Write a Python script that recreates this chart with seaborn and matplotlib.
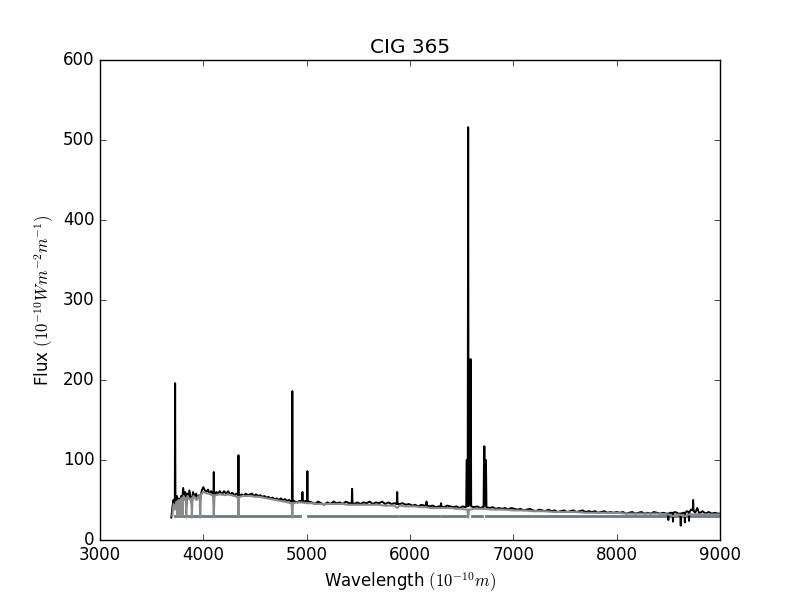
import numpy as np
import pandas as pd
import matplotlib
matplotlib.use('Agg')
import matplotlib.pyplot as plt
import seaborn as sns

# ---------------- data ----------------
# observed spectrum (black)
obs_wave = [3690, 3700, 3710, 3720, 3724, 3727, 3730, 3735, 3745, 3755, 3765, 3775, 3785,
            3795, 3805, 3815, 3825, 3835, 3845, 3855, 3865, 3875, 3889, 3900, 3915, 3930,
            3945, 3960, 3970, 3985, 4000, 4015, 4030, 4045, 4060, 4075, 4090, 4098, 4101,
            4104, 4110, 4125, 4140, 4160, 4180, 4200, 4220, 4240, 4260, 4280, 4300, 4320,
            4336, 4340, 4344, 4350, 4370, 4390, 4410, 4430, 4450, 4470, 4490, 4510, 4530,
            4550, 4570, 4590, 4610, 4630, 4650, 4670, 4690, 4710, 4730, 4750, 4770, 4790,
            4810, 4830, 4850, 4857, 4861, 4865, 4870, 4890, 4910, 4930, 4955, 4959, 4963,
            4975, 4990, 5003, 5007, 5011, 5020, 5050, 5080, 5110, 5140, 5170, 5200, 5230,
            5260, 5290, 5320, 5350, 5380, 5410, 5436, 5440, 5444, 5460, 5490, 5520, 5550,
            5580, 5610, 5640, 5670, 5700, 5730, 5760, 5790, 5820, 5850, 5872, 5876, 5880,
            5900, 5930, 5960, 5990, 6020, 6050, 6080, 6110, 6140, 6156, 6160, 6164, 6190,
            6220, 6250, 6280, 6296, 6300, 6304, 6330, 6360, 6390, 6420, 6450, 6480, 6510,
            6540, 6544, 6548, 6553, 6558, 6563, 6567, 6572, 6580, 6584, 6588, 6592, 6620,
            6650, 6680, 6700, 6712, 6717, 6722, 6726, 6731, 6735, 6740, 6770, 6800, 6830,
            6860, 6890, 6920, 6950, 6980, 7010, 7040, 7070, 7100, 7130, 7160, 7190, 7220,
            7250, 7280, 7310, 7340, 7370, 7400, 7430, 7460, 7490, 7520, 7550, 7580, 7610,
            7640, 7670, 7700, 7730, 7760, 7790, 7820, 7850, 7880, 7910, 7940, 7970, 8000,
            8030, 8060, 8090, 8120, 8150, 8180, 8210, 8240, 8270, 8300, 8330, 8360, 8390,
            8420, 8450, 8480, 8496, 8500, 8504, 8520, 8541, 8545, 8549, 8565, 8600, 8616,
            8620, 8624, 8640, 8656, 8660, 8664, 8680, 8696, 8700, 8704, 8720, 8736, 8740,
            8744, 8760, 8780, 8800, 8830, 8860, 8890, 8920, 8950, 8980, 9000]
obs_flux = [28, 40, 50, 45, 46, 196, 47, 48, 55, 42, 52, 38, 55,
            48, 65, 50, 60, 42, 58, 52, 62, 55, 45, 60, 54, 58,
            52, 56, 50, 62, 66, 62, 60, 63, 58, 61, 58, 57, 85,
            57, 57, 60, 58, 61, 57, 61, 58, 61, 57, 59, 56, 58,
            56, 106, 55, 55, 57, 55, 58, 56, 57, 58, 55, 57, 55,
            56, 54, 55, 53, 54, 52, 53, 51, 52, 50, 52, 50, 51,
            49, 50, 48, 48, 186, 48, 49, 48, 47, 49, 48, 60, 48,
            48, 49, 48, 86, 48, 48, 47, 45, 48, 46, 44, 47, 45,
            48, 46, 47, 45, 48, 46, 46, 64, 46, 45, 47, 45, 47,
            46, 48, 45, 47, 46, 48, 45, 47, 45, 46, 45, 60, 45,
            45, 46, 44, 45, 43, 44, 42, 44, 43, 43, 48, 43, 42,
            43, 41, 42, 42, 46, 42, 41, 43, 42, 41, 42, 40, 42,
            41, 42, 100, 100, 42, 516, 44, 43, 44, 226, 226, 42, 41,
            42, 40, 41, 41, 117, 117, 43, 100, 100, 41, 40, 41, 39,
            40, 39, 40, 38, 40, 39, 38, 39, 37, 38, 39, 37, 36,
            38, 37, 36, 38, 36, 37, 35, 36, 37, 35, 36, 37, 35,
            36, 37, 35, 36, 35, 36, 34, 35, 36, 34, 35, 34, 35,
            34, 35, 33, 34, 35, 33, 34, 35, 33, 34, 33, 35, 34,
            33, 34, 33, 33, 25, 33, 34, 34, 23, 34, 35, 33, 33,
            18, 33, 34, 34, 22, 34, 36, 35, 24, 35, 38, 37, 50,
            37, 34, 40, 33, 36, 33, 35, 33, 34, 33, 33]

# stellar population fit (gray)
fit_wave = [3700, 3712, 3727, 3740, 3746, 3750, 3754, 3760, 3767, 3771, 3775, 3785, 3794,
            3798, 3802, 3810, 3822, 3830, 3835, 3840, 3848, 3862, 3875, 3884, 3889, 3894,
            3905, 3920, 3935, 3950, 3964, 3970, 3976, 3985, 4000, 4020, 4040, 4060, 4080,
            4094, 4101, 4108, 4120, 4150, 4180, 4210, 4240, 4270, 4300, 4325, 4334, 4340,
            4346, 4355, 4380, 4420, 4460, 4500, 4540, 4580, 4620, 4660, 4700, 4740, 4780,
            4820, 4845, 4855, 4861, 4867, 4877, 4900, 4950, 5000, 5050, 5100, 5150, 5200,
            5250, 5300, 5350, 5400, 5450, 5500, 5550, 5600, 5650, 5700, 5750, 5800, 5850,
            5876, 5900, 5950, 6000, 6050, 6100, 6150, 6200, 6250, 6300, 6350, 6400, 6450,
            6500, 6540, 6556, 6563, 6570, 6585, 6620, 6700, 6800, 6900, 7000, 7100, 7200,
            7300, 7400, 7500, 7600, 7700, 7800, 7900, 8000, 8100, 8200, 8300, 8400, 8500,
            8545, 8600, 8665, 8700, 8800, 8900, 9000]
fit_flux = [30, 45, 38, 48, 46, 30, 47, 50, 48, 32, 49, 52, 52,
            30, 52, 55, 50, 52, 28, 52, 55, 52, 50, 52, 28, 52,
            55, 52, 50, 54, 55, 28, 56, 58, 60, 59, 58, 58, 56,
            56, 30, 56, 56, 57, 57, 56, 57, 56, 55, 54, 54, 30,
            54, 54, 55, 55, 55, 54, 54, 53, 52, 51, 50, 49, 48,
            47, 46, 46, 28, 46, 46, 47, 47, 46, 46, 45, 45, 45,
            45, 45, 45, 44, 44, 44, 44, 44, 44, 44, 43, 43, 43,
            40, 43, 42, 42, 42, 41, 41, 40, 40, 40, 40, 40, 39,
            39, 38, 38, 28, 38, 38, 39, 39, 38, 38, 37, 37, 36,
            36, 35, 35, 35, 34, 34, 34, 34, 33, 33, 33, 33, 32,
            30, 32, 30, 32, 32, 32, 32]

# masked (fitted) wavelength windows, drawn at a constant level
mask_start = [3726, 5010, 5903, 6310, 6597, 6735]
mask_end = [4935, 5871, 6281, 6532, 6694, 9000]
mask_level = 30

mask_df = pd.DataFrame({
    'wave': mask_start + mask_end,
    'flux': [mask_level] * (2 * len(mask_start)),
    'seg': list(range(len(mask_start))) * 2,
})

# ---------------- plot ----------------
plt.style.use('classic')
fig, ax = plt.subplots(figsize=(8, 6))

sns.lineplot(data=mask_df, x='wave', y='flux', units='seg', estimator=None,
             color='#6b7b82', lw=2, ax=ax)
sns.lineplot(x=obs_wave, y=obs_flux, color='k', lw=1.4, estimator=None, ax=ax)
sns.lineplot(x=fit_wave, y=fit_flux, color='#8a8a8a', lw=1.5, estimator=None, ax=ax)

ax.set_xlim(3000, 9000)
ax.set_ylim(0, 600)
ax.set_title('CIG 365')
ax.set_xlabel(r'Wavelength $(10^{-10} m)$')
ax.set_ylabel(r'Flux $(10^{-10} W m^{-2} m^{-1})$')

fig.savefig('out.png', dpi=100)
